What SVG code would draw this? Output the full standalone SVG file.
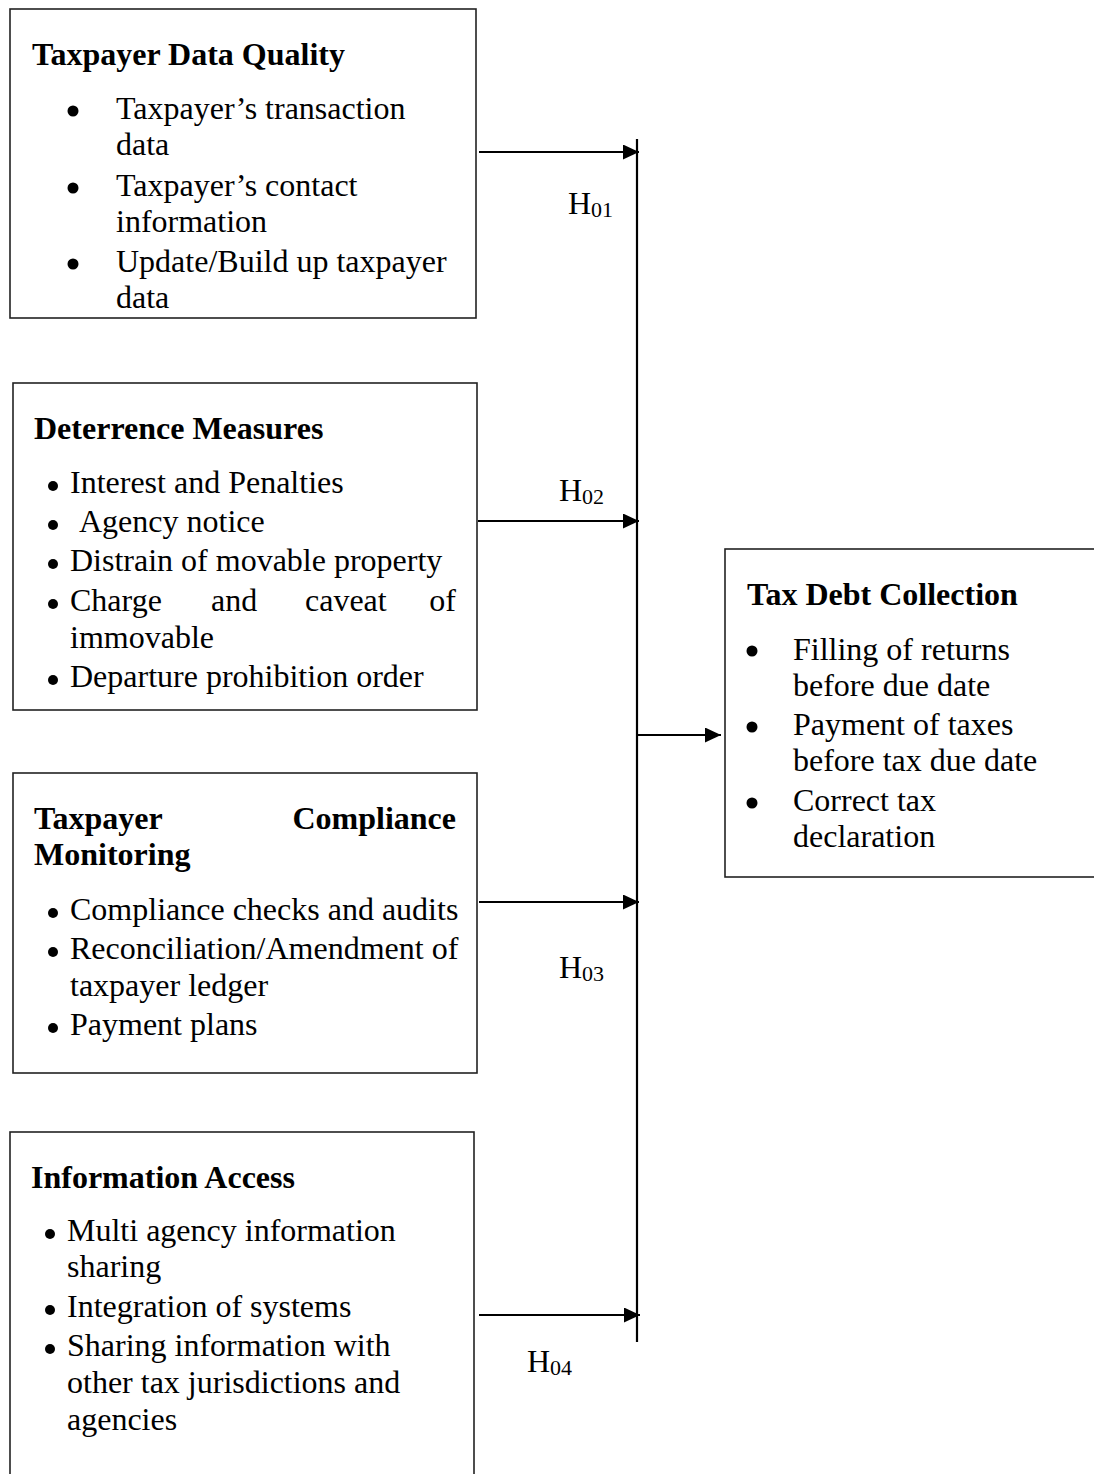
<svg xmlns="http://www.w3.org/2000/svg" width="1094" height="1474" viewBox="0 0 1094 1474">
<style>
.box{fill:#fff;stroke:#222;stroke-width:1.6}
.t{font-family:"Liberation Serif","Times New Roman",serif;font-size:32px;fill:#000}
.b{font-weight:bold}
.sub{font-size:22px}
.ln{stroke:#000;stroke-width:2.2;fill:none}
.dot{fill:#000}
</style>
<defs>
<marker id="ah" viewBox="0 0 16 15" refX="16" refY="7.5" markerWidth="16" markerHeight="15" orient="auto" markerUnits="userSpaceOnUse">
<path d="M0,0 L16,7.5 L0,15 z" fill="#000"/>
</marker>
</defs>
<rect width="1094" height="1474" fill="#fff"/>

<g id="connectors">
<line class="ln" x1="637" y1="139" x2="637" y2="1342"/>
<line class="ln" x1="479" y1="152" x2="639" y2="152" marker-end="url(#ah)"/>
<line class="ln" x1="478" y1="521" x2="639" y2="521" marker-end="url(#ah)"/>
<line class="ln" x1="479" y1="902" x2="639" y2="902" marker-end="url(#ah)"/>
<line class="ln" x1="479" y1="1315" x2="640" y2="1315" marker-end="url(#ah)"/>
<line class="ln" x1="637" y1="735" x2="721" y2="735" marker-end="url(#ah)"/>
<text class="t" x="568" y="214">H<tspan class="sub" dy="3">01</tspan></text>
<text class="t" x="559" y="501">H<tspan class="sub" dy="3">02</tspan></text>
<text class="t" x="559" y="978">H<tspan class="sub" dy="3">03</tspan></text>
<text class="t" x="527" y="1372">H<tspan class="sub" dy="3">04</tspan></text>
</g>

<g id="taxpayer-data-quality">
<rect class="box" x="10" y="9" width="466" height="309"/>
<text class="t b" x="32" y="65">Taxpayer Data Quality</text>
<circle class="dot" cx="73" cy="111" r="5.5"/>
<text class="t" x="116" y="119">Taxpayer’s transaction</text>
<text class="t" x="116" y="155">data</text>
<circle class="dot" cx="73" cy="188" r="5.5"/>
<text class="t" x="116" y="196">Taxpayer’s contact</text>
<text class="t" x="116" y="232">information</text>
<circle class="dot" cx="73" cy="264" r="5.5"/>
<text class="t" x="116" y="272">Update/Build up taxpayer</text>
<text class="t" x="116" y="308">data</text>
</g>

<g id="deterrence-measures">
<rect class="box" x="13" y="383" width="464" height="327"/>
<text class="t b" x="34" y="439">Deterrence Measures</text>
<circle class="dot" cx="53" cy="486" r="5"/>
<text class="t" x="70" y="493">Interest and Penalties</text>
<circle class="dot" cx="53" cy="525" r="5"/>
<text class="t" x="79" y="532">Agency notice</text>
<circle class="dot" cx="53" cy="564" r="5"/>
<text class="t" x="70" y="571">Distrain of movable property</text>
<circle class="dot" cx="53" cy="604" r="5"/>
<text class="t" x="70" y="611">Charge</text>
<text class="t" x="211" y="611">and</text>
<text class="t" x="305" y="611">caveat</text>
<text class="t" x="456" y="611" text-anchor="end">of</text>
<text class="t" x="70" y="648">immovable</text>
<circle class="dot" cx="53" cy="680" r="5"/>
<text class="t" x="70" y="687">Departure prohibition order</text>
</g>

<g id="taxpayer-compliance-monitoring">
<rect class="box" x="13" y="773" width="464" height="300"/>
<text class="t b" x="34" y="829">Taxpayer</text>
<text class="t b" x="456" y="829" text-anchor="end">Compliance</text>
<text class="t b" x="34" y="865">Monitoring</text>
<circle class="dot" cx="53" cy="913" r="5"/>
<text class="t" x="70" y="920">Compliance checks and audits</text>
<circle class="dot" cx="53" cy="952" r="5"/>
<text class="t" x="70" y="959">Reconciliation/Amendment of</text>
<text class="t" x="70" y="996">taxpayer ledger</text>
<circle class="dot" cx="53" cy="1028" r="5"/>
<text class="t" x="70" y="1035">Payment plans</text>
</g>

<g id="information-access">
<rect class="box" x="10" y="1132" width="464" height="360"/>
<text class="t b" x="31" y="1188">Information Access</text>
<circle class="dot" cx="50" cy="1234" r="5"/>
<text class="t" x="67" y="1241">Multi agency information</text>
<text class="t" x="67" y="1277">sharing</text>
<circle class="dot" cx="50" cy="1310" r="5"/>
<text class="t" x="67" y="1317">Integration of systems</text>
<circle class="dot" cx="50" cy="1349" r="5"/>
<text class="t" x="67" y="1356">Sharing information with</text>
<text class="t" x="67" y="1393">other tax jurisdictions and</text>
<text class="t" x="67" y="1430">agencies</text>
</g>

<g id="tax-debt-collection">
<rect class="box" x="725" y="549" width="380" height="328"/>
<text class="t b" x="747" y="605">Tax Debt Collection</text>
<circle class="dot" cx="752" cy="651" r="5.5"/>
<text class="t" x="793" y="660">Filling of returns</text>
<text class="t" x="793" y="696">before due date</text>
<circle class="dot" cx="752" cy="727" r="5.5"/>
<text class="t" x="793" y="735">Payment of taxes</text>
<text class="t" x="793" y="771">before tax due date</text>
<circle class="dot" cx="752" cy="803" r="5.5"/>
<text class="t" x="793" y="811">Correct tax</text>
<text class="t" x="793" y="847">declaration</text>
</g>
</svg>
